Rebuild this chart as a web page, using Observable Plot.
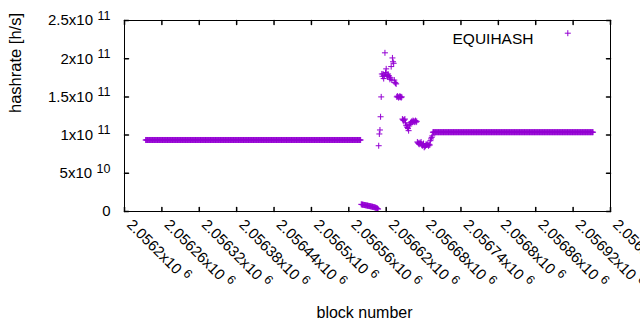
<!DOCTYPE html>
<html><head><meta charset="utf-8">
<script src="https://cdn.jsdelivr.net/npm/d3@7"></script>
<script src="https://cdn.jsdelivr.net/npm/@observablehq/plot@0.6"></script>
<style>body{margin:0;background:#fff} svg{display:block}</style>
</head><body><div id="chart"></div>
<script>
const seriesName = "EQUIHASH";
const xLabel = "block number";
const yLabel = "hashrate [h/s]";
const color = "#9400D3";
const xTicks = [2056200, 2056260, 2056320, 2056380, 2056440, 2056500, 2056560, 2056620, 2056680, 2056740, 2056800, 2056860, 2056920, 2056980];
const yTicks = [0, 5e10, 1e11, 1.5e11, 2e11, 2.5e11];

// runs of constant hashrate (one point per block): first block, last block, value
const runFirst = [2056234, 2056695];
const runLast = [2056579, 2056952];
const runValue = [0.936e11, 1.038e11];

// low values right after the first run, one per block
const lowStart = 2056580;
const lowValues = [9.4e9, 9.1e9, 9.0e9, 8.8e9, 8.7e9, 8.5e9, 8.3e9, 8.2e9, 8.0e9, 7.8e9, 7.7e9, 7.5e9, 7.3e9, 7.1e9,
  7.0e9, 6.8e9, 6.6e9, 6.4e9, 6.2e9, 6.0e9, 5.8e9, 5.6e9, 5.3e9, 5.0e9, 4.7e9, 4.3e9, 3.8e9, 3.2e9];

// scattered values between the low stretch and the second run, one per block
const scatterStart = 2056608;
const scatterValues = [
  0.861e11, 1.015e11, 1.067e11, 1.24e11, 1.50e11, 1.80e11, 1.77e11, 1.80e11, 1.74e11, 1.78e11,
  2.077e11, 1.82e11, 1.867e11, 1.79e11, 1.766e11, 1.80e11, 1.78e11, 1.76e11, 1.73e11, 1.749e11,
  1.897e11, 1.72e11, 2.01e11, 1.96e11, 1.94e11, 1.72e11, 1.69e11, 1.68e11, 1.67e11, 1.50e11,
  1.51e11, 1.50e11, 1.49e11, 1.50e11, 1.51e11, 1.50e11, 1.49e11, 1.50e11, 1.21e11, 1.20e11,
  1.19e11, 1.20e11, 1.21e11, 1.16e11, 1.13e11, 1.12e11, 1.10e11, 1.085e11, 1.058e11, 1.12e11,
  1.14e11, 1.16e11, 1.17e11, 1.18e11, 1.17e11, 1.19e11, 1.18e11, 1.17e11, 1.18e11, 1.19e11,
  1.17e11, 1.18e11, 0.91e11, 0.90e11, 0.89e11, 0.88e11, 0.90e11, 0.89e11, 0.91e11, 0.88e11,
  0.86e11, 0.87e11, 0.89e11, 0.84e11, 0.85e11, 0.86e11, 0.88e11, 0.87e11, 0.88e11, 0.87e11,
  0.86e11, 0.88e11, 0.87e11, 0.927e11, 0.95e11, 0.97e11, 0.99e11];

const points = [];
runFirst.forEach((f, i) => { for (let b = f; b <= runLast[i]; b++) points.push({block: b, hashrate: runValue[i]}); });
lowValues.forEach((v, i) => points.push({block: lowStart + i, hashrate: v}));
scatterValues.forEach((v, i) => points.push({block: scatterStart + i, hashrate: v}));

const plusSymbol = {draw(ctx, size) { const r = Math.sqrt(size / Math.PI); ctx.moveTo(-r, 0); ctx.lineTo(r, 0); ctx.moveTo(0, -r); ctx.lineTo(0, r); }};
const tickShape = {draw(ctx, l) { ctx.moveTo(0, 0); ctx.lineTo(0, -l); }};

function fmtX(v) { return parseFloat((v / 1e6).toFixed(5)).toString() + "x10^6"; }
function fmtY(v) {
  if (v === 0) return "0";
  const e = Math.floor(Math.log10(v) + 1e-9);
  const m = parseFloat((v / Math.pow(10, e)).toFixed(3));
  return m + "x10^" + e;
}

const font = "'Liberation Sans', Arial, sans-serif";
const plot = Plot.plot({
  width: 640, height: 330,
  marginLeft: 124, marginRight: 30, marginTop: 20, marginBottom: 119,
  style: {fontFamily: font, background: "#fff", color: "#000"},
  x: {domain: [2056200, 2056980], axis: null},
  y: {domain: [0, 2.5e11], axis: null},
  marks: [
    Plot.dot(points, {x: "block", y: "hashrate", symbol: plusSymbol, r: 3, stroke: color, fill: "none", strokeWidth: 1}),
    Plot.frame({stroke: "#000"}),
    Plot.vector(yTicks, {y: d => d, frameAnchor: "left", length: 4, rotate: 90, anchor: "start", shape: tickShape, stroke: "#000"}),
    Plot.vector(yTicks, {y: d => d, frameAnchor: "right", length: 4, rotate: -90, anchor: "start", shape: tickShape, stroke: "#000"}),
    Plot.vector(xTicks, {x: d => d, frameAnchor: "bottom", length: 4, rotate: 0, anchor: "start", shape: tickShape, stroke: "#000"}),
    Plot.vector(xTicks, {x: d => d, frameAnchor: "top", length: 4, rotate: 180, anchor: "start", shape: tickShape, stroke: "#000"}),
    Plot.text(yTicks, {y: d => d, frameAnchor: "left", text: fmtY, textAnchor: "end", dx: -14, fontSize: 15, fill: "#000"}),
    Plot.text(xTicks, {x: d => d, frameAnchor: "bottom", text: fmtX, rotate: 45, textAnchor: "start", dx: 1.5, dy: 14, fontSize: 15, fill: "#000"}),
    Plot.text([yLabel], {frameAnchor: "left", rotate: -90, dx: -108.5, dy: -3, fontSize: 16.5, fill: "#000"}),
    Plot.text([xLabel], {frameAnchor: "bottom", dx: -3, dy: 106, fontSize: 16, fill: "#000"}),
    Plot.text([seriesName], {frameAnchor: "top-right", textAnchor: "end", dx: -77, dy: 12, fontSize: 15.5, fill: "#000"}),
    Plot.dot([seriesName], {frameAnchor: "top-right", dx: -42.7, dy: 12.7, symbol: plusSymbol, r: 3, stroke: color, fill: "none", strokeWidth: 1})
  ]
});

plot.querySelectorAll("text").forEach(t => {
  const s = t.textContent;
  if (s.includes("^")) {
    const [base, exp] = s.split("^");
    t.textContent = base;
    const ts = document.createElementNS("http://www.w3.org/2000/svg", "tspan");
    ts.setAttribute("dx", "4.5");
    ts.setAttribute("dy", "-5.5");
    ts.setAttribute("font-size", "12.5");
    ts.textContent = exp;
    t.appendChild(ts);
  }
});
document.getElementById("chart").appendChild(plot);
</script>
</body></html>
